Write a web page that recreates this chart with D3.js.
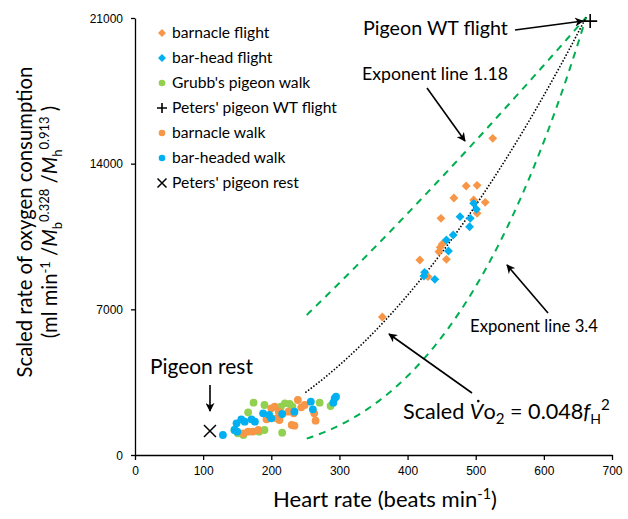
<!DOCTYPE html>
<html><head><meta charset="utf-8">
<script src="https://cdn.jsdelivr.net/npm/d3@7"></script>
<style>
body{margin:0;background:#fff;}
svg{display:block;}
.lato{font-family:Lato,"Open Sans",sans-serif;fill:#000;}
.tick text{font-family:"Liberation Sans",Arial,sans-serif;font-size:12px;fill:#000;}
</style></head>
<body><svg id="c" width="628" height="519"></svg>
<script>
// ---- data ----
const xTicks = [0,100,200,300,400,500,600,700];
const yTicks = [0,7000,14000,21000];

const barnacleFlightHR = [486,502,468,449,497,514,502,451,448,446,418,457,430,525,363];
const barnacleFlightVO = [12926,12958,12350,11374,12254,12143,11614,10139,9980,9770,9370,9404,8570,15218,6631];

const barHeadFlightHR = [497,501,477,492,491,467,457,460,425,424,440];
const barHeadFlightVO = [12095,11807,11452,11374,10971,10572,10332,9803,8778,8602,8442];

const grubbWalkHR = [174,190,166,220,227,231,271,214,151,159,190,216,146,287,182];
const grubbWalkVO = [2515,2403,2050,2483,2451,2323,2515,2323,1041,961,1201,1073,1201,2355,1122];

const barnacleWalkHR = [200,205,211,239,244,249,225,233,212,230,234,263,265,166,173,181,159,193,208];
const barnacleWalkVO = [2243,2323,2083,2643,2291,2403,2083,2003,1682,1442,1409,2003,1650,1122,1122,1201,1041,1714,1762];

const barHeadWalkHR = [129,149,146,156,161,171,176,188,197,200,216,234,258,261,291,295,293,150];
const barHeadWalkVO = [961,1522,1201,1714,1602,1714,1602,2003,1922,1762,1970,2083,2563,2195,2515,2804,2723,1122];

const petersFlight = [668, 20850];
const petersRest = [110, 1150];

// model curves (stated in the chart)
const fitCoef = 0.048, fitStart = 250, fitEnd = 662;
const expLines = [1.18, 3.4], expStart = 252;

const legendLabels = ["barnacle flight","bar-head flight","Grubb's pigeon walk","Peters' pigeon WT flight","barnacle walk","bar-headed walk","Peters' pigeon rest"];

// ---- chart ----
const ORANGE="#F79646", BLUE="#00B0F0", GREEN="#92D050", DGREEN="#00B050";
const svg = d3.select("#c");
const x = d3.scaleLinear().domain([0,700]).range([135,612]);
const y = d3.scaleLinear().domain([0,21000]).range([455,18]);

// fit a text element's font size so its rendered width equals target
function fit(sel, target){
  const n = sel.node();
  const fs = parseFloat(sel.style("font-size"));
  const w = n.getComputedTextLength();
  const scale = target / w;
  sel.style("font-size", (fs*scale)+"px");
  sel.selectAll("tspan").each(function(){
    const t = d3.select(this);
    const a = t.attr("font-size"); if(a) t.attr("font-size", parseFloat(a)*scale);
    const dy = t.attr("dy"); if(dy) t.attr("dy", parseFloat(dy)*scale);
  });
  return sel;
}

// axes
const gx = svg.append("g").attr("transform","translate(0,455)")
  .call(d3.axisBottom(x).tickValues(xTicks).tickFormat(d3.format("d")).tickSize(5).tickSizeOuter(0).tickPadding(6));
const gy = svg.append("g").attr("transform","translate(135,0)")
  .call(d3.axisLeft(y).tickValues(yTicks).tickFormat(d3.format("d")).tickSize(4).tickSizeOuter(0).tickPadding(8));
svg.selectAll(".domain, .tick line").attr("stroke","#000").attr("stroke-width",1.3);
gy.selectAll(".tick text").attr("dy","0.35em");

// curves
const fitPts = d3.range(fitStart, fitEnd+0.1, 2).map(f=>[f, fitCoef*f*f]);
const vEnd = fitCoef*fitEnd*fitEnd;
const line = d3.line().x(d=>x(d[0])).y(d=>y(d[1]));
expLines.forEach(k=>{
  const pts = d3.range(expStart, fitEnd+0.1, 2).map(f=>[f, vEnd*Math.pow(f/fitEnd,k)]);
  svg.append("path").attr("d",line(pts)).attr("fill","none")
    .attr("stroke",DGREEN).attr("stroke-width",2).attr("stroke-dasharray","7,6");
});
svg.append("path").attr("d",line(fitPts)).attr("fill","none")
  .attr("stroke","#000").attr("stroke-width",1.6).attr("stroke-dasharray","1.5,1.8");

// markers
const diamond = d3.symbol().type(d3.symbolDiamond2).size(50);
function diamonds(hr, vo, col){
  svg.append("g").selectAll("path").data(hr.map((h,i)=>[h,vo[i]])).join("path")
    .attr("d",diamond).attr("transform",d=>`translate(${x(d[0])},${y(d[1])})`).attr("fill",col);
}
function circles(hr, vo, col){
  svg.append("g").selectAll("circle").data(hr.map((h,i)=>[h,vo[i]])).join("circle")
    .attr("cx",d=>x(d[0])).attr("cy",d=>y(d[1])).attr("r",3.9).attr("fill",col);
}
diamonds(barnacleFlightHR, barnacleFlightVO, ORANGE);
diamonds(barHeadFlightHR, barHeadFlightVO, BLUE);
circles(grubbWalkHR, grubbWalkVO, GREEN);
circles(barnacleWalkHR, barnacleWalkVO, ORANGE);
circles(barHeadWalkHR, barHeadWalkVO, BLUE);

function plus(g, cx, cy, s){
  g.append("path").attr("d",`M${cx-s},${cy}H${cx+s}M${cx},${cy-s}V${cy+s}`).attr("stroke","#000").attr("stroke-width",1.6);
}
function cross(g, cx, cy, s){
  g.append("path").attr("d",`M${cx-s},${cy-s}L${cx+s},${cy+s}M${cx+s},${cy-s}L${cx-s},${cy+s}`).attr("stroke","#000").attr("stroke-width",1.5);
}
plus(svg, x(petersFlight[0]), y(petersFlight[1]), 7);
cross(svg, x(petersRest[0]), y(petersRest[1]), 6);

// legend
const lg = svg.append("g");
const legendKinds = [["d",ORANGE],["d",BLUE],["c",GREEN],["+","#000"],["c",ORANGE],["c",BLUE],["x","#000"]];
let legendFS = null;
legendLabels.forEach((t,i)=>{
  const cy = 33 + i*25, cx = 162;
  const k = legendKinds[i];
  if(k[0]==="d") lg.append("path").attr("d",d3.symbol().type(d3.symbolDiamond2).size(40)).attr("transform",`translate(${cx},${cy})`).attr("fill",k[1]);
  else if(k[0]==="c") lg.append("circle").attr("cx",cx).attr("cy",cy).attr("r",3.3).attr("fill",k[1]);
  else if(k[0]==="+") plus(lg,cx,cy,5);
  else cross(lg,cx,cy,4.5);
  const tx = lg.append("text").attr("class","lato").attr("x",172).attr("y",cy).attr("dy","0.35em")
    .style("font-size","15px").text(t);
  if(i===3){ fit(tx,165); legendFS = tx.style("font-size"); }
});
lg.selectAll("text").style("font-size", legendFS);

// axis titles
fit(svg.append("text").attr("class","lato").attr("x",385).attr("y",507).attr("text-anchor","middle")
  .style("font-size","20px").html('Heart rate (beats min<tspan dy="-7" font-size="13px">-1</tspan><tspan dy="7">)</tspan>'), 224);
const yt = svg.append("g").attr("transform","translate(0,222) rotate(-90)");
const yt1 = fit(yt.append("text").attr("class","lato").attr("x",0).attr("y",32).attr("text-anchor","middle")
  .style("font-size","19px").text("Scaled rate of oxygen consumption"), 311);
const yfs = parseFloat(yt1.style("font-size"));
yt.append("text").attr("class","lato").attr("x",0).attr("y",57).attr("text-anchor","middle")
  .style("font-size",yfs+"px")
  .html('(ml min<tspan dy="-7" font-size="13px">-1</tspan><tspan dy="7"> /</tspan><tspan font-style="italic">M</tspan><tspan dy="5" font-size="13px">b</tspan><tspan dy="-13" font-size="13px">0.328</tspan><tspan dy="8"> /</tspan><tspan font-style="italic">M</tspan><tspan dy="5" font-size="13px">h</tspan><tspan dy="-13" font-size="13px">0.913</tspan><tspan dy="8"> )</tspan>');

// arrows
const defs = svg.append("defs");
defs.append("marker").attr("id","ah").attr("viewBox","0 0 10 10").attr("refX",9).attr("refY",5)
  .attr("markerWidth",9).attr("markerHeight",9).attr("markerUnits","userSpaceOnUse").attr("orient","auto")
  .append("path").attr("d","M0,0L10,5L0,10L3,5Z").attr("fill","#000");
function arrow(x1,y1,x2,y2){
  svg.append("line").attr("x1",x1).attr("y1",y1).attr("x2",x2).attr("y2",y2)
    .attr("stroke","#000").attr("stroke-width",1.6).attr("marker-end","url(#ah)");
}
arrow(515,30,583,21);
arrow(427,88,465,141);
arrow(548,313,507,265);
arrow(472,393,389,334);
arrow(210,385,210,411);

// annotation texts
function ann(tx,ty,size,html,w){
  return fit(svg.append("text").attr("class","lato").attr("x",tx).attr("y",ty).style("font-size",size+"px").html(html), w);
}
ann(363,35,17,"Pigeon WT flight",145);
ann(362,80,15,"Exponent line 1.18",146);
ann(470,332,15,"Exponent line 3.4",128);
ann(150,374,17,"Pigeon rest",103);
const vt = ann(403,419,20,'Scaled <tspan font-style="italic">V</tspan>o<tspan dy="5" font-size="14px">2</tspan><tspan dy="-5"> = 0.048</tspan><tspan font-style="italic">f</tspan><tspan dy="5" font-size="13px">H</tspan><tspan dy="-13" font-size="14px">2</tspan>',207);
// dot over V
const ext = vt.node().getExtentOfChar(7);
svg.append("circle").attr("cx",ext.x+ext.width*0.62).attr("cy",ext.y+ext.height*0.12).attr("r",1.3).attr("fill","#000");
</script></body></html>
